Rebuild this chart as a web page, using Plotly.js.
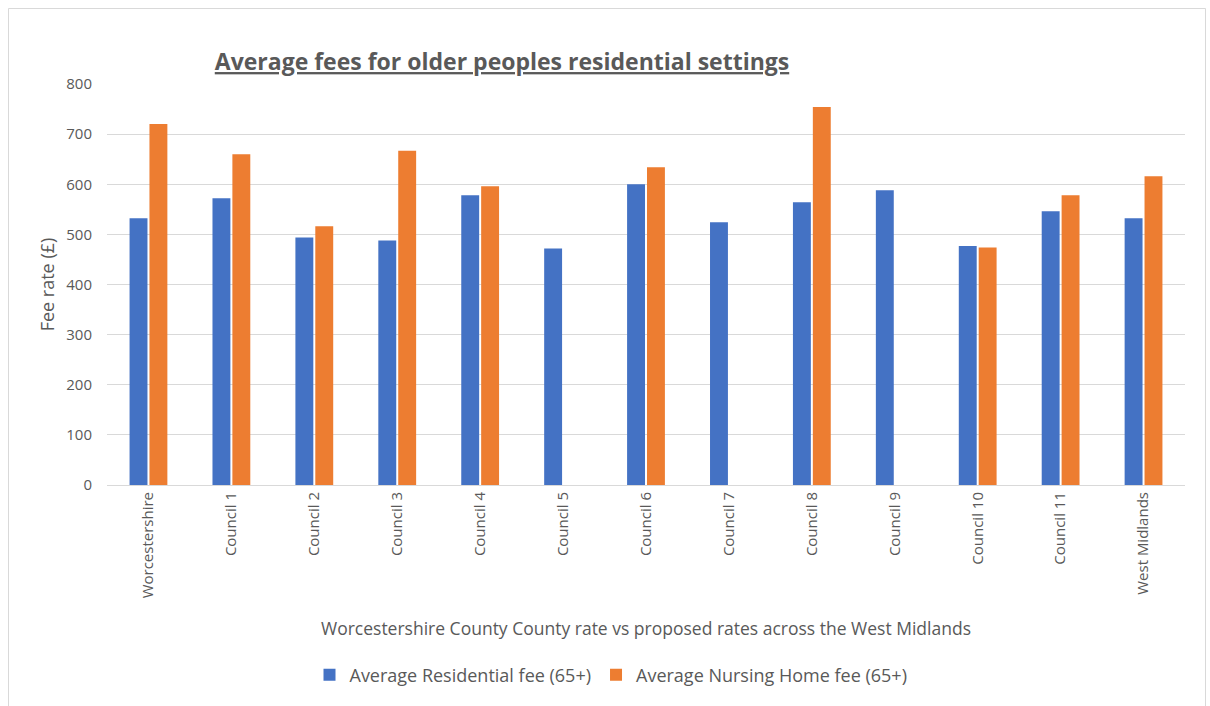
<!DOCTYPE html>
<html>
<head>
<meta charset="utf-8">
<script src="https://cdn.plot.ly/plotly-3.0.1.min.js"></script>
<style>
html,body{margin:0;padding:0;background:#fff;}
#chart{width:1210px;height:706px;}
</style>
</head>
<body>
<div id="chart"></div>
<script>
const categories = ["Worcestershire","Council 1","Council 2","Council 3","Council 4","Council 5","Council 6","Council 7","Council 8","Council 9","Council 10","Council 11","West Midlands"];
const residentialFee = [532, 572, 494, 488, 578, 472, 600, 524, 564, 588, 477, 546, 532];
const nursingFee = [720, 660, 516, 667, 596, null, 634, null, 754, null, 474, 578, 616];
const seriesNames = ["Average Residential fee (65+)", "Average Nursing Home fee (65+)"];
const yTicks = [0, 100, 200, 300, 400, 500, 600, 700, 800];

const FONT = "Open Sans, Noto Sans, sans-serif";
const GREY = "#595959";

const traces = [
  {type: "bar", name: seriesNames[0], x: categories, y: residentialFee, marker: {color: "#4472C4"}, hoverinfo: "x+y"},
  {type: "bar", name: seriesNames[1], x: categories, y: nursingFee, marker: {color: "#ED7D31"}, hoverinfo: "x+y"}
];

const L = 107, R = 25, T = 84, B = 221;
const W = 1210, H = 706;
const pw = W - L - R, ph = H - T - B;
function px2x(p){ return (p - L) / pw; }
function py2y(p){ return (H - B - p) / ph; }

const layout = {
  width: W, height: H,
  paper_bgcolor: "#fff", plot_bgcolor: "#fff",
  margin: {l: L, r: R, t: T, b: B},
  font: {family: FONT, color: GREY, size: 15},
  barmode: "group",
  bargap: 0.52,
  bargroupgap: 0.1,
  title: {
    text: "Average fees for older peoples residential settings",
    font: {family: FONT, size: 23, color: GREY, weight: "bold", lineposition: "under"},
    x: 502 / W, xanchor: "center", xref: "container",
    y: 1 - 62 / H, yanchor: "middle", yref: "container"
  },
  xaxis: {
    type: "category",
    tickangle: -90,
    tickfont: {family: FONT, size: 15, color: GREY},
    showgrid: false,
    showline: true, linecolor: "#d9d9d9", linewidth: 1,
    ticks: "",
    automargin: false,
    title: {text: "Worcestershire County County rate vs proposed rates across the West Midlands",
            font: {family: FONT, size: 17.5, color: GREY}, standoff: 25}
  },
  yaxis: {
    range: [0, 800],
    tickvals: yTicks,
    tickfont: {family: FONT, size: 15, color: GREY},
    showgrid: true, gridcolor: "#d9d9d9", gridwidth: 1,
    zeroline: false, showline: false, ticks: "",
    ticklabelstandoff: 14,
    automargin: false,
    title: {text: "Fee rate (£)", font: {family: FONT, size: 18, color: GREY}, standoff: 6}
  },
  showlegend: true,
  legend: {
    orientation: "h",
    x: px2x(611), xanchor: "center",
    y: py2y(675), yanchor: "middle",
    font: {family: FONT, size: 18, color: GREY},
    itemwidth: 30
  },
  shapes: [{
    type: "rect", xref: "paper", yref: "paper",
    x0: px2x(8.5), x1: px2x(1205.5), y0: py2y(712), y1: py2y(8.5),
    line: {color: "#d9d9d9", width: 1}, fillcolor: "rgba(0,0,0,0)", layer: "below"
  }]
};

Plotly.newPlot("chart", traces, layout, {displayModeBar: false, staticPlot: false});
</script>
</body>
</html>
